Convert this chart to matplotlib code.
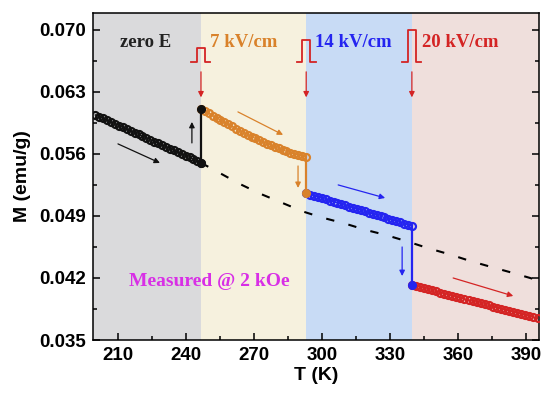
import numpy as np
import matplotlib.pyplot as plt

# measured M(T) at 2 kOe, one run per electric field step
t_zero = [200.0, 201.7, 203.5, 205.2, 206.9, 208.7, 210.4, 212.1, 213.9, 215.6,
          217.3, 219.1, 220.8, 222.5, 224.3, 226.0, 227.7, 229.5, 231.2, 232.9,
          234.7, 236.4, 238.1, 239.9, 241.6, 243.3, 245.0, 246.6]
m_zero = [0.06040, 0.06020, 0.06000, 0.05980, 0.05960, 0.05940, 0.05920, 0.05900,
          0.05880, 0.05860, 0.05840, 0.05820, 0.05800, 0.05780, 0.05760, 0.05740,
          0.05720, 0.05700, 0.05680, 0.05660, 0.05640, 0.05620, 0.05600, 0.05580,
          0.05560, 0.05540, 0.05520, 0.05500]

t_7 = [246.6, 248.3, 250.0, 251.7, 253.5, 255.2, 256.9, 258.6, 260.3, 262.0,
       263.7, 265.5, 267.2, 268.9, 270.6, 272.3, 274.0, 275.7, 277.5, 279.2,
       280.9, 282.6, 284.3, 286.0, 287.7, 289.5, 291.2, 293.0]
m_7 = [0.06110, 0.06084, 0.06059, 0.06033, 0.06007, 0.05982, 0.05958, 0.05934,
       0.05910, 0.05886, 0.05863, 0.05840, 0.05818, 0.05796, 0.05775, 0.05755,
       0.05735, 0.05716, 0.05697, 0.05679, 0.05662, 0.05645, 0.05629, 0.05614,
       0.05600, 0.05587, 0.05575, 0.05563]

t_14 = [293.0, 294.7, 296.5, 298.2, 299.9, 301.6, 303.4, 305.1, 306.8, 308.5,
        310.3, 312.0, 313.7, 315.4, 317.2, 318.9, 320.6, 322.3, 324.1, 325.8,
        327.5, 329.2, 331.0, 332.7, 334.4, 336.1, 337.9, 339.6]
m_14 = [0.05156, 0.05142, 0.05129, 0.05115, 0.05101, 0.05088, 0.05074, 0.05060,
        0.05047, 0.05033, 0.05019, 0.05006, 0.04992, 0.04978, 0.04965, 0.04951,
        0.04937, 0.04924, 0.04910, 0.04896, 0.04883, 0.04869, 0.04855, 0.04842,
        0.04828, 0.04814, 0.04801, 0.04787]

t_20 = [339.6, 341.4, 343.2, 345.0, 346.7, 348.5, 350.3, 352.1, 353.9, 355.7,
        357.5, 359.2, 361.0, 362.8, 364.6, 366.4, 368.2, 370.0, 371.8, 373.5,
        375.3, 377.1, 378.9, 380.7, 382.5, 384.3, 386.0, 387.8, 389.6, 391.4,
        393.2, 395.0]
m_20 = [0.04121, 0.04109, 0.04097, 0.04085, 0.04072, 0.04060, 0.04048, 0.04036,
        0.04024, 0.04012, 0.04000, 0.03988, 0.03975, 0.03963, 0.03951, 0.03939,
        0.03927, 0.03915, 0.03903, 0.03891, 0.03878, 0.03866, 0.03854, 0.03842,
        0.03830, 0.03818, 0.03806, 0.03794, 0.03781, 0.03769, 0.03757, 0.03745]

# zero-field trend continued past the first field step
t_trend = [246.6, 254.2, 263.4, 272.6, 291.7, 300.1, 309.7, 319.3, 328.1, 337.4,
           346.9, 356.2, 365.3, 374.1, 383.7, 393.2, 396.0]
m_trend = [0.05500, 0.05394, 0.05265, 0.05152, 0.04949, 0.04881, 0.04817, 0.04742,
           0.04685, 0.04614, 0.04535, 0.04467, 0.04392, 0.04328, 0.04260, 0.04189,
           0.04168]

labels = ["zero E", "7 kV/cm", "14 kV/cm", "20 kV/cm"]
colors = ["#111111", "#d9822b", "#2424f0", "#d42424"]
bg_colors = ["#dadadc", "#f6f1de", "#c8dbf5", "#efdfdc"]
pulse_height = [0.00158, 0.00248, 0.00361]

series = [(t_zero, m_zero), (t_7, m_7), (t_14, m_14), (t_20, m_20)]

fig = plt.figure(figsize=(5.44, 3.94), dpi=100)
ax = fig.add_axes([0.171, 0.137, 0.82, 0.83])

xmin, xmax = 199, 395.7
ymin, ymax = 0.035, 0.0719

# shaded background, one band per field
edges = [xmin] + [s[0][-1] for s in series[:-1]] + [xmax]
for k in range(4):
    ax.axvspan(edges[k], edges[k + 1], color=bg_colors[k], zorder=0, lw=0)

ax.plot(t_trend, m_trend, color="black", lw=1.5, dashes=(4, 7), zorder=2)

for k, (t, m) in enumerate(series):
    ax.plot(t, m, color=colors[k], lw=1, marker="o", ms=5, mfc="none",
            mec=colors[k], mew=1.6, zorder=3)

# jumps when the field is switched on
for k in range(3):
    t, m = series[k]
    t_next, m_next = series[k + 1]
    ax.plot([t[-1], t_next[0]], [m[-1], m_next[0]], color=colors[k], lw=1.6, zorder=4)
    ax.plot(t_next[0], m_next[0], "o", color=colors[k], ms=5.5, zorder=5)
ax.plot(t_zero[-1], m_zero[-1], "o", color=colors[0], ms=5.5, zorder=5)

# field pulses and the arrows below them
for k in range(3):
    tb = series[k][0][-1]
    base = 0.06639
    top = base + pulse_height[k]
    ax.plot([tb - 4.2, tb - 1.8, tb - 1.8, tb + 1.8, tb + 1.8, tb + 4.2],
            [base, base, top, top, base, base], color="#d42424", lw=1.3, zorder=4)
    ax.annotate("", xy=(tb, 0.06238), xytext=(tb, 0.06526),
                arrowprops=dict(arrowstyle="-|>", color="#d42424", lw=0.9,
                                mutation_scale=8, shrinkA=0, shrinkB=0))

# direction arrows along the curves
arrows = [
    ((210.0, 0.05713), (228.5, 0.05498), colors[0]),
    ((242.6, 0.05724), (242.6, 0.05961), colors[0]),
    ((262.9, 0.06074), (282.8, 0.05815), colors[1]),
    ((289.4, 0.05464), (289.4, 0.05216), colors[1]),
    ((307.1, 0.05250), (327.8, 0.05103), colors[2]),
    ((335.3, 0.04550), (335.3, 0.04222), colors[2]),
    ((357.8, 0.04200), (384.3, 0.03997), colors[3]),
]
for start, end, c in arrows:
    ax.annotate("", xy=end, xytext=start,
                arrowprops=dict(arrowstyle="-|>", color=c, lw=0.9,
                                mutation_scale=8, shrinkA=0, shrinkB=0))

label_x = [210.9, 250.6, 296.9, 344.0]
for k in range(4):
    ax.text(label_x[k], 0.06853, labels[k], color=colors[k] if k else "#222222",
            family="Liberation Serif", weight="bold", fontsize=13.5,
            ha="left", va="center", zorder=6)

ax.text(214.9, 0.04155, "Measured @ 2 kOe", color="#d82fe6",
        family="Liberation Serif", weight="bold", fontsize=14,
        ha="left", va="center", zorder=6)

ax.set_xlim(xmin, xmax)
ax.set_ylim(ymin, ymax)
ax.set_xticks([210, 240, 270, 300, 330, 360, 390])
ax.set_xticks([225, 255, 285, 315, 345, 375], minor=True)
ax.set_yticks([0.035, 0.042, 0.049, 0.056, 0.063, 0.070])
ax.set_yticks([0.0385, 0.0455, 0.0525, 0.0595, 0.0665], minor=True)
ax.set_yticklabels(["0.035", "0.042", "0.049", "0.056", "0.063", "0.070"])

ax.tick_params(which="both", direction="in", right=True, top=False, width=1.1)
ax.tick_params(which="major", length=5, pad=5)
ax.tick_params(which="minor", length=3)
for lab in ax.get_xticklabels() + ax.get_yticklabels():
    lab.set_family("Liberation Sans")
    lab.set_weight("bold")
    lab.set_fontsize(13.5)
for sp in ax.spines.values():
    sp.set_linewidth(1.1)

ax.set_xlabel("T (K)", family="Liberation Sans", weight="bold", fontsize=14, labelpad=2)
ax.set_ylabel("M (emu/g)", family="Liberation Sans", weight="bold", fontsize=14, labelpad=6)

fig.savefig("out.png", dpi=100)
